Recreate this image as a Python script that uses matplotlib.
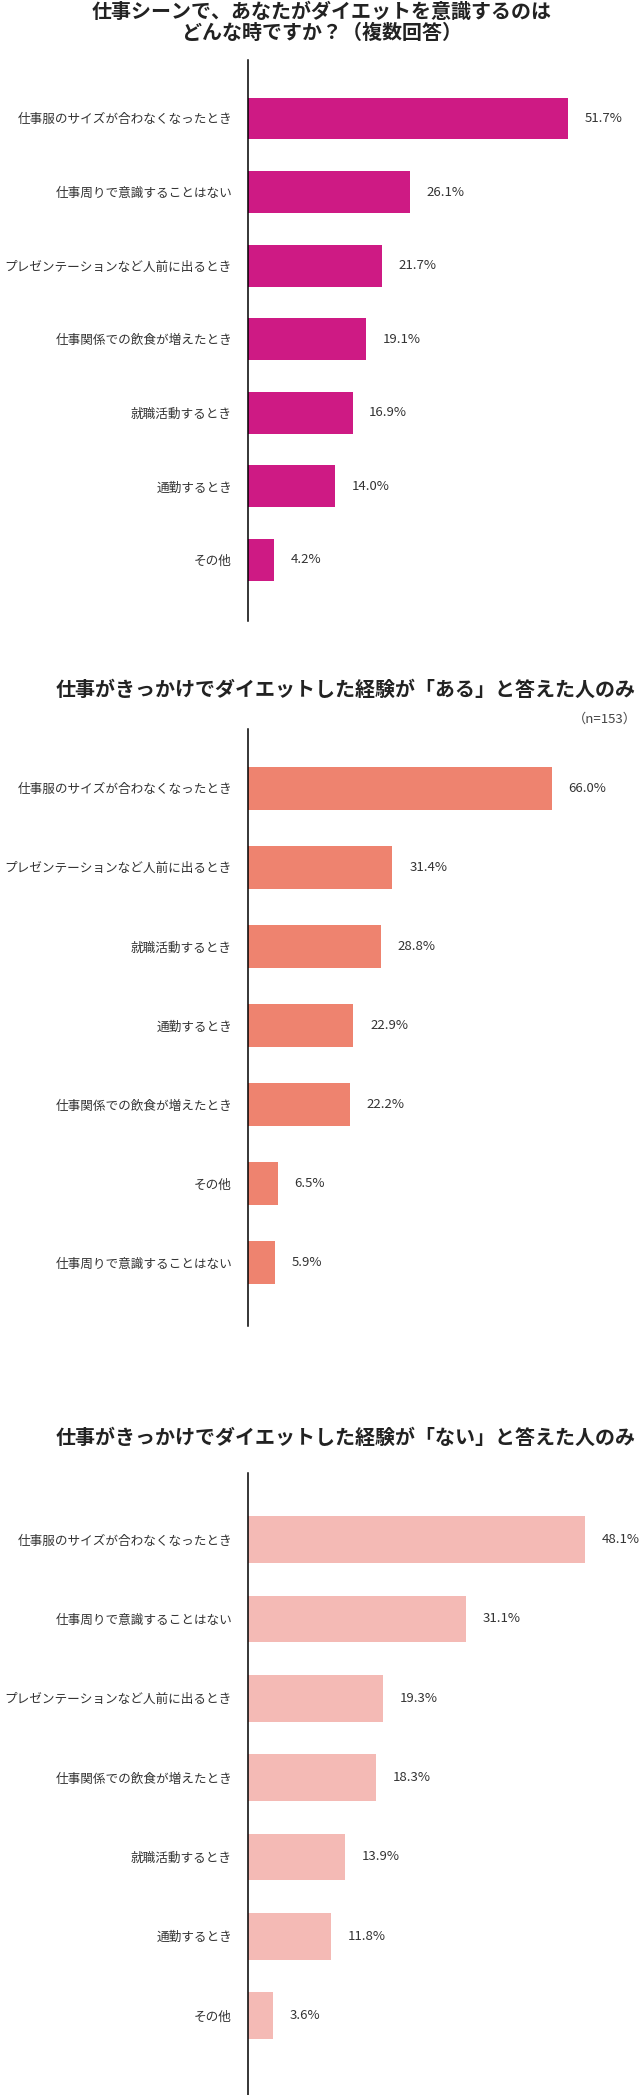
import matplotlib
matplotlib.use("Agg")
import matplotlib.pyplot as plt

plt.rcParams['font.family'] = ['Noto Sans CJK JP', 'DejaVu Sans']

# --- data ---
title_all = "仕事シーンで、あなたがダイエットを意識するのは\nどんな時ですか？（複数回答）"
cats_all = ["仕事服のサイズが合わなくなったとき", "仕事周りで意識することはない",
            "プレゼンテーションなど人前に出るとき", "仕事関係での飲食が増えたとき",
            "就職活動するとき", "通勤するとき", "その他"]
vals_all = [51.7, 26.1, 21.7, 19.1, 16.9, 14.0, 4.2]

title_yes = "仕事がきっかけでダイエットした経験が「ある」と答えた人のみ"
note_yes = "（n=153）"
cats_yes = ["仕事服のサイズが合わなくなったとき", "プレゼンテーションなど人前に出るとき",
            "就職活動するとき", "通勤するとき", "仕事関係での飲食が増えたとき",
            "その他", "仕事周りで意識することはない"]
vals_yes = [66.0, 31.4, 28.8, 22.9, 22.2, 6.5, 5.9]

title_no = "仕事がきっかけでダイエットした経験が「ない」と答えた人のみ"
cats_no = ["仕事服のサイズが合わなくなったとき", "仕事周りで意識することはない",
           "プレゼンテーションなど人前に出るとき", "仕事関係での飲食が増えたとき",
           "就職活動するとき", "通勤するとき", "その他"]
vals_no = [48.1, 31.1, 19.3, 18.3, 13.9, 11.8, 3.6]

W, H = 641, 2095
fig = plt.figure(figsize=(W / 100, H / 100), dpi=100)


def px_axes(left, top, right, bottom):
    # pixel box (from top-left) -> figure fraction
    return fig.add_axes([left / W, 1 - bottom / H, (right - left) / W, (bottom - top) / H])


def draw_panel(box, cats, vals, color, xmax, ylo, yhi, bar_h):
    ax = px_axes(*box)
    pos = list(range(len(cats)))
    bars = ax.barh(pos, vals, height=bar_h, color=color, edgecolor='none')
    ax.set_yticks(pos, cats)
    ax.set_ylim(yhi, ylo)
    ax.set_xlim(0, xmax)
    ax.tick_params(left=False, bottom=False, labelbottom=False, pad=8,
                   labelsize=9.1, labelcolor='#333333')
    for s in ['top', 'right', 'bottom']:
        ax.spines[s].set_visible(False)
    ax.spines['left'].set_linewidth(1.1)
    ax.spines['left'].set_color('black')
    ax.bar_label(bars, fmt='%.1f%%', padding=12, fontsize=9.5, color='#333333')
    return ax


draw_panel((248, 60, 641, 621), cats_all, vals_all, '#CE1A84', 63.5, -0.795, 6.83, 0.57)
draw_panel((248, 729, 641, 1326), cats_yes, vals_yes, '#EE836F', 85.4, -0.75, 6.8, 0.545)
draw_panel((248, 1473, 641, 2095), cats_no, vals_no, '#F4BAB5', 56.1, -0.84, 7.0, 0.59)

fig.text(322 / W, 1 - 22 / H, title_all, ha='center', va='center', fontsize=14.4,
         fontweight='bold', color='#222222', linespacing=1.05)
fig.text(346 / W, 1 - 689 / H, title_yes, ha='center', va='center', fontsize=14.4,
         fontweight='bold', color='#222222')
fig.text(637 / W, 1 - 719 / H, note_yes, ha='right', va='center', fontsize=9.5,
         color='#444444')
fig.text(346 / W, 1 - 1437 / H, title_no, ha='center', va='center', fontsize=14.4,
         fontweight='bold', color='#222222')

fig.savefig("out.png", dpi=100)
